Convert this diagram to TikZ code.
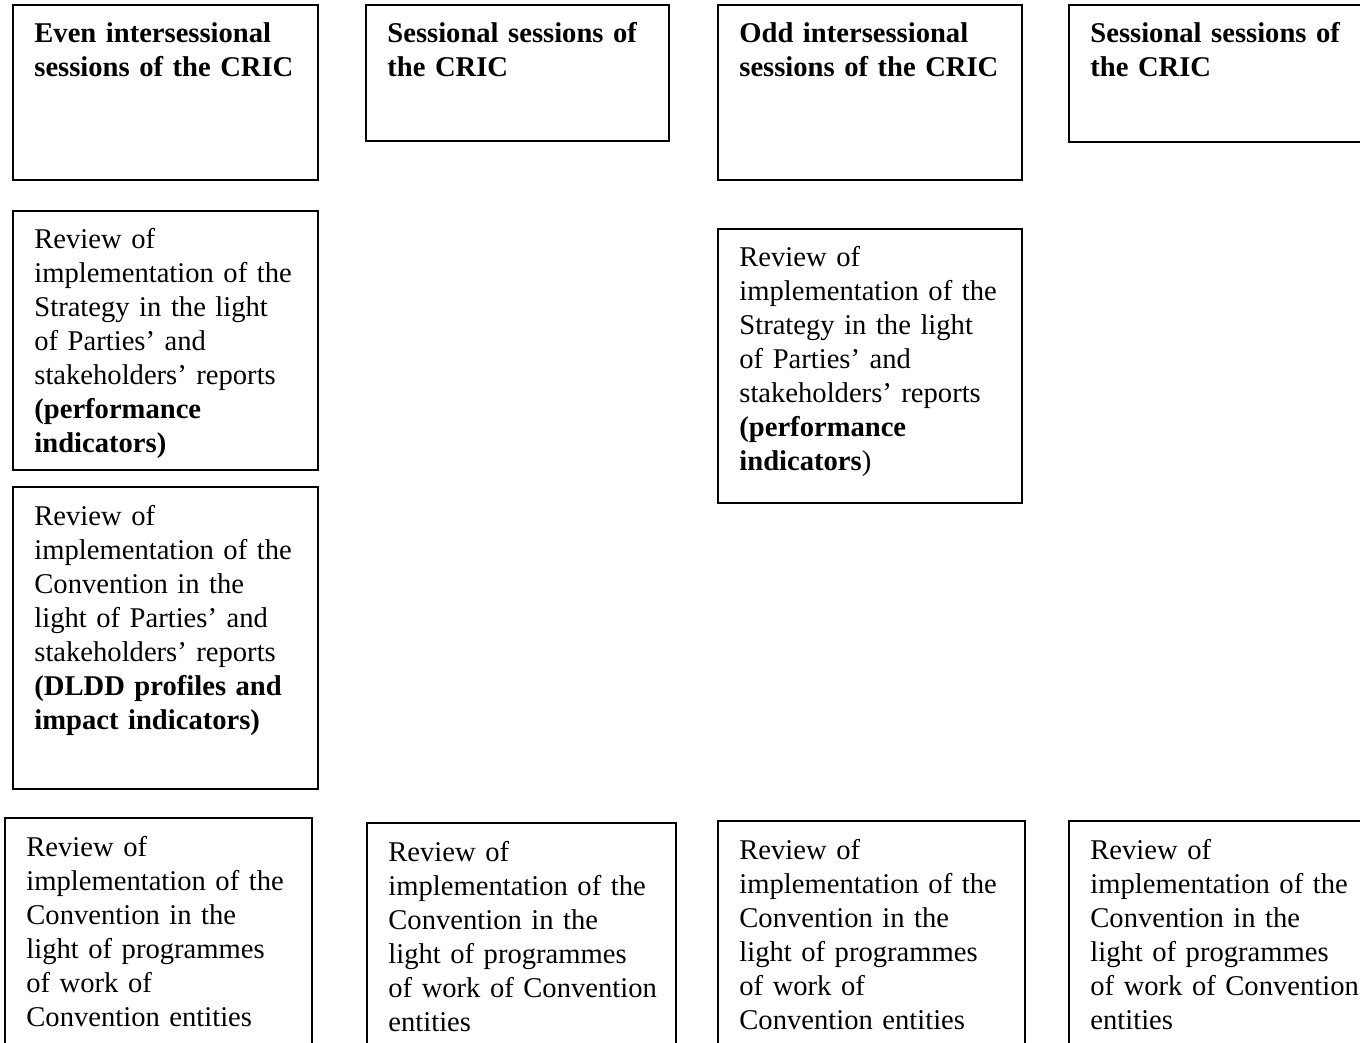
\documentclass[tikz,border=0pt]{standalone}
\usepackage{fontspec}
\setmainfont{Liberation Serif}
\usetikzlibrary{positioning}

\begin{document}
\begin{tikzpicture}[x=0.5pt, y=-0.5pt,
		frame/.style={draw, line width=0.9pt},
		txt/.style={anchor=base west, xshift=10.5pt, yshift=-19pt, inner sep=0pt,
			text width=170pt, align=left, font=\fontsize{14.3}{17}\selectfont}]
	\clip (0,0) rectangle (1360,1043);
	\fill[white] (0,0) rectangle (1360,1043);
	% session headings
	\path[frame] (13,5) rectangle (318,180);
	\coordinate (even) at (13,5);
	\node[txt] (evenT) at (even) {\textbf{Even intersessional\\ sessions of the CRIC}};
	\path[frame] (366,5) rectangle (669,141);
	\coordinate (sess) at (366,5);
	\node[txt] (sessT) at (sess) {\textbf{Sessional sessions of\\ the CRIC}};
	\path[frame] (718,5) rectangle (1022,180);
	\coordinate (odd) at (718,5);
	\node[txt] (oddT) at (odd) {\textbf{Odd intersessional\\ sessions of the CRIC}};
	\path[frame] (1069,5) rectangle (1390,142);
	\coordinate (sessb) at (1069,5);
	\node[txt] (sessbT) at (sessb) {\textbf{Sessional sessions of\\ the CRIC}};
	% strategy / convention reviews
	\path[frame] (13,211) rectangle (318,470);
	\coordinate (stratA) at (13,211);
	\node[txt] (stratAT) at (stratA) {Review of\\ implementation of the\\ Strategy in the light\\ of Parties’ and\\ stakeholders’ reports\\ \textbf{(performance\\ indicators)}};
	\path[frame] (13,487) rectangle (318,789);
	\coordinate (conv) at (13,487);
	\node[txt] (convT) at (conv) {Review of\\ implementation of the\\ Convention in the\\ light of Parties’ and\\ stakeholders’ reports\\ \textbf{(DLDD profiles and\\ impact indicators)}};
	\path[frame] (718,229) rectangle (1022,503);
	\coordinate (stratB) at (718,229);
	\node[txt] (stratBT) at (stratB) {Review of\\ implementation of the\\ Strategy in the light\\ of Parties’ and\\ stakeholders’ reports\\ \textbf{(performance\\ indicators})};
	% programmes of work
	\path[frame] (5,818) rectangle (312,1060);
	\coordinate (workA) at (5,818);
	\node[txt] (workAT) at (workA) {Review of\\ implementation of the\\ Convention in the\\ light of programmes\\ of work of\\ Convention entities};
	\path[frame] (367,823) rectangle (676,1060);
	\coordinate (workB) at (367,823);
	\node[txt] (workBT) at (workB) {Review of\\ implementation of the\\ Convention in the\\ light of programmes\\ of work of Convention\\ entities};
	\path[frame] (718,821) rectangle (1025,1060);
	\coordinate (workC) at (718,821);
	\node[txt] (workCT) at (workC) {Review of\\ implementation of the\\ Convention in the\\ light of programmes\\ of work of\\ Convention entities};
	\path[frame] (1069,821) rectangle (1390,1060);
	\coordinate (workD) at (1069,821);
	\node[txt] (workDT) at (workD) {Review of\\ implementation of the\\ Convention in the\\ light of programmes\\ of work of Convention\\ entities};
\end{tikzpicture}
\end{document}
